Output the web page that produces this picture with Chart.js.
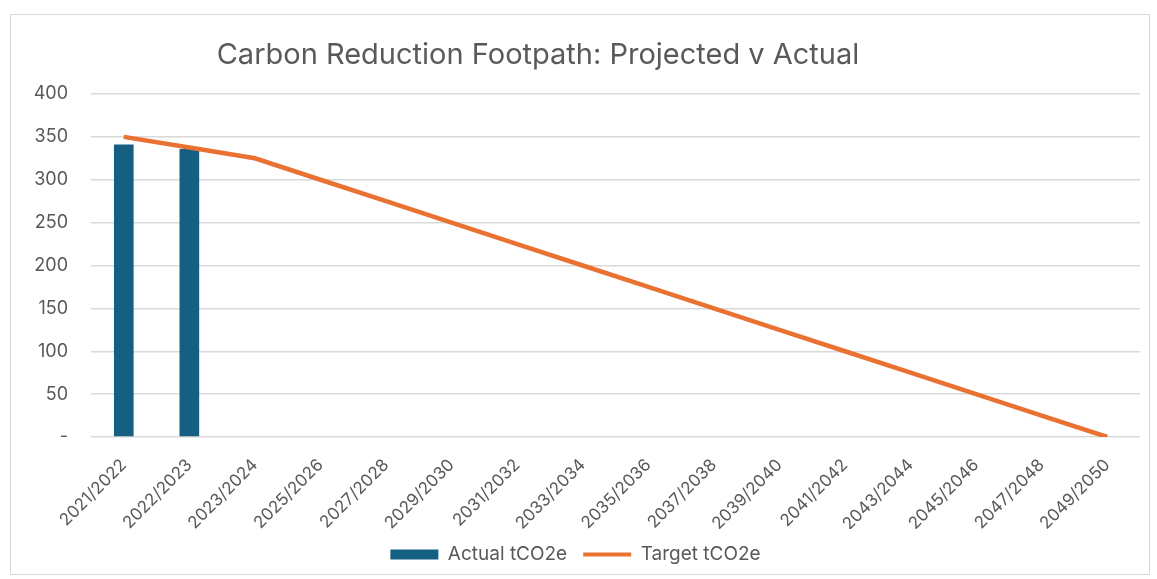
<!DOCTYPE html>
<html>
<head>
<meta charset="utf-8">
<script src="https://cdn.jsdelivr.net/npm/chart.js@4.4.1/dist/chart.umd.min.js"></script>
<style>
  body { margin: 0; background: #fff; }
  #frame {
    position: absolute; left: 10px; top: 14px;
    width: 1138px; height: 559px;
    border: 1px solid #d9d9d9;
  }
</style>
</head>
<body>
<div id="frame"><canvas id="chart" width="1138" height="559"></canvas></div>
<script>
// categories (financial years)
const years = ['2021/2022', '2022/2023', '2023/2024', '2025/2026', '2027/2028', '2029/2030',
  '2031/2032', '2033/2034', '2035/2036', '2037/2038', '2039/2040', '2041/2042',
  '2043/2044', '2045/2046', '2047/2048', '2049/2050'];

// actual emissions, only the first two years reported
const actual = [341, 336, null, null, null, null, null, null, null, null, null, null, null, null, null, null];

// target footpath
const target = [350, 337.5, 325, 300, 275, 250, 225, 200, 175, 150, 125, 100, 75, 50, 25, 0];

// y axis ticks
const yTicks = [0, 50, 100, 150, 200, 250, 300, 350, 400];

const titleText = 'Carbon Reduction Footpath: Projected v Actual';
const grey = '#595959';
const fontFamily = 'Inter, "Liberation Sans", sans-serif';

// title is drawn a little left of centre, like the original
const titlePlugin = {
  id: 'offsetTitle',
  afterDraw(chart) {
    const ctx = chart.ctx;
    ctx.save();
    ctx.font = '400 29px ' + fontFamily;
    ctx.fillStyle = grey;
    ctx.textAlign = 'center';
    ctx.textBaseline = 'middle';
    ctx.fillText(titleText, 527, 40);
    ctx.restore();
  }
};

new Chart(document.getElementById('chart'), {
  type: 'bar',
  data: {
    labels: years,
    datasets: [
      {
        type: 'line',
        label: 'Target tCO2e',
        data: target,
        borderColor: '#E97132',
        backgroundColor: '#E97132',
        borderWidth: 4.5,
        pointRadius: 0,
        tension: 0,
        order: 1
      },
      {
        label: 'Actual tCO2e',
        data: actual,
        backgroundColor: '#156082',
        barPercentage: 0.3,
        categoryPercentage: 1,
        order: 2
      }
    ]
  },
  options: {
    responsive: false,
    animation: false,
    layout: { padding: { top: 79, right: 9, left: 0, bottom: 0 } },
    plugins: {
      title: { display: false },
      tooltip: { enabled: false },
      legend: {
        position: 'bottom',
        labels: {
          color: grey,
          font: { family: fontFamily, size: 19 },
          usePointStyle: true,
          pointStyleWidth: 48,
          boxHeight: 10,
          padding: 16,
          sort: (a, b) => b.datasetIndex - a.datasetIndex,
          generateLabels(chart) {
            const items = Chart.defaults.plugins.legend.labels.generateLabels(chart);
            items.forEach(it => {
              if (it.text === 'Target tCO2e') {
                it.pointStyle = 'line';
                it.lineWidth = 4;
                it.strokeStyle = '#E97132';
              } else {
                it.pointStyle = 'rect';
                it.lineWidth = 0;
                it.strokeStyle = '#156082';
              }
            });
            return items;
          }
        }
      }
    },
    scales: {
      x: {
        afterFit(scale) { scale.height = 92; },
        grid: { display: false, drawTicks: false },
        border: { display: false },
        ticks: {
          color: grey,
          font: { family: fontFamily, size: 17 },
          minRotation: 45,
          maxRotation: 45,
          autoSkip: false,
          padding: 18
        }
      },
      y: {
        min: 0,
        max: 400,
        afterBuildTicks(scale) {
          scale.ticks = yTicks.map(v => ({ value: v }));
        },
        afterFit(scale) { scale.width = 80; },
        grid: { color: '#d9d9d9', lineWidth: 1.5, drawTicks: false },
        border: { display: false },
        ticks: {
          color: grey,
          font: { family: fontFamily, size: 18 },
          padding: 23,
          callback: v => (v === 0 ? '-' : v)
        }
      }
    }
  },
  plugins: [titlePlugin]
});
</script>
</body>
</html>
